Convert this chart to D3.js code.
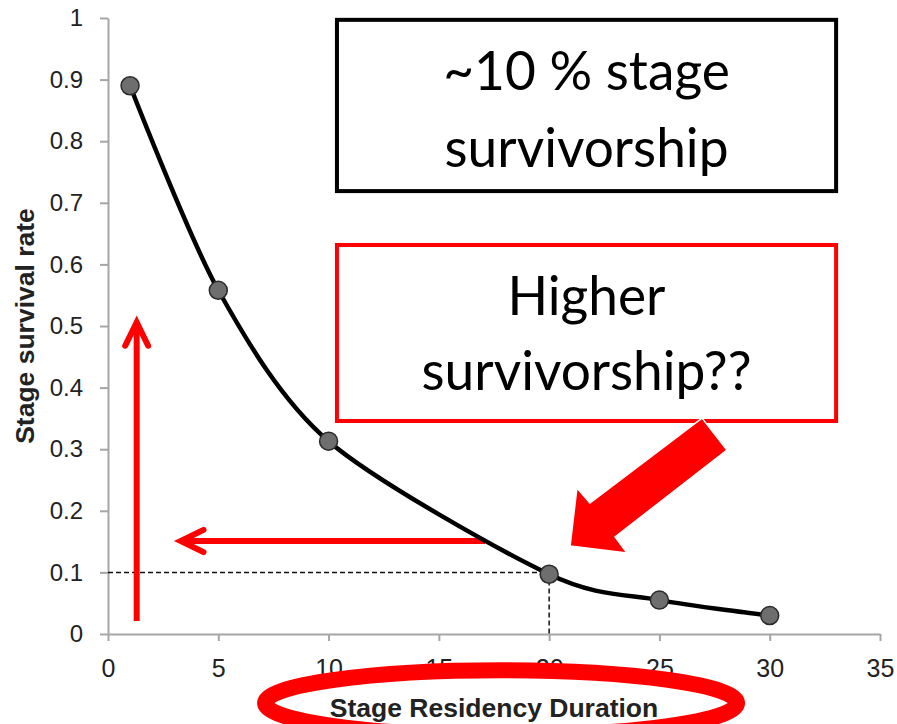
<!DOCTYPE html>
<html>
<head>
<meta charset="utf-8">
<script src="https://cdn.jsdelivr.net/npm/d3@7"></script>
<style>
  html, body { margin: 0; padding: 0; background: #fff; }
  svg { display: block; }
</style>
</head>
<body>
<svg id="chart" width="897" height="724"></svg>
<script>
// ---------- data ----------
const durations = [1, 5, 10, 20, 25, 30];
const survivalRates = [0.89, 0.558, 0.313, 0.097, 0.055, 0.03];
const xTickValues = [0, 5, 10, 15, 20, 25, 30, 35];
const yTickValues = [0, 0.1, 0.2, 0.3, 0.4, 0.5, 0.6, 0.7, 0.8, 0.9, 1];
const yTickLabels = ["0", "0.1", "0.2", "0.3", "0.4", "0.5", "0.6", "0.7", "0.8", "0.9", "1"];
const xTitle = "Stage Residency Duration";
const yTitle = "Stage survival rate";
const box1Lines = ["~10 % stage", "survivorship"];
const box2Lines = ["Higher", "survivorship??"];
const refLevel = 0.1;      // dashed reference survival
const refDuration = 20;    // dashed reference duration

// ---------- layout ----------
const svg = d3.select("#chart");
const x = d3.scaleLinear().domain([0, 35]).range([108, 880]);
const y = d3.scaleLinear().domain([0, 1]).range([634, 18]);
const axisColor = "#a6a6a6";
const P = (a, b) => [x(a), y(b)];
const sans = "'Liberation Sans', Arial, sans-serif";

// ---------- axes ----------
const yAxis = svg.append("g")
  .attr("transform", `translate(${x(0)},0)`)
  .call(d3.axisLeft(y).tickValues(yTickValues)
    .tickFormat((d, i) => yTickLabels[i]).tickSize(8).tickSizeOuter(0).tickPadding(17));
const xAxis = svg.append("g")
  .attr("transform", `translate(0,${y(0)})`)
  .call(d3.axisBottom(x).tickValues(xTickValues).tickFormat(d3.format("d"))
    .tickSize(7).tickSizeOuter(0).tickPadding(18));
[yAxis, xAxis].forEach(g => {
  g.attr("font-family", sans);
  g.select(".domain").attr("stroke", axisColor).attr("stroke-width", 2);
  g.selectAll(".tick line").attr("stroke", axisColor).attr("stroke-width", 2);
  g.selectAll(".tick text").attr("fill", "#222");
});
yAxis.attr("font-size", 24);
xAxis.attr("font-size", 25);

// axis titles
svg.append("text")
  .attr("transform", `translate(34,${(y(0) + y(1)) / 2}) rotate(-90)`)
  .attr("text-anchor", "middle")
  .attr("font-family", sans)
  .attr("font-weight", "bold").attr("font-size", 26.5).attr("fill", "#222")
  .text(yTitle);
svg.append("text")
  .attr("x", 494).attr("y", 717)
  .attr("text-anchor", "middle")
  .attr("font-family", sans)
  .attr("font-weight", "bold").attr("font-size", 26.5).attr("fill", "#222")
  .text(xTitle);

// ---------- dashed reference lines ----------
const dashed = svg.append("g").attr("stroke", "#111").attr("stroke-width", 1.5)
  .attr("stroke-dasharray", "5,3").attr("fill", "none");
dashed.append("line").attr("x1", x(0)).attr("y1", y(refLevel))
  .attr("x2", x(refDuration)).attr("y2", y(refLevel));
dashed.append("line").attr("x1", x(refDuration)).attr("y1", y(refLevel))
  .attr("x2", x(refDuration)).attr("y2", y(0));

// ---------- red thin arrows ----------
const red = "#ff0000";
const arrows = svg.append("g").attr("stroke", red).attr("fill", "none")
  .attr("stroke-width", 6);
// vertical arrow
arrows.append("line").attr("x1", x(1.3)).attr("y1", y(0.021))
  .attr("x2", x(1.3)).attr("y2", y(0.505));
arrows.append("path")
  .attr("stroke-linecap", "round").attr("stroke-linejoin", "miter")
  .attr("d", d3.line()([P(0.78, 0.468), P(1.3, 0.506), P(1.82, 0.468)]));
// horizontal arrow
arrows.append("line").attr("x1", x(17.1)).attr("y1", y(0.151))
  .attr("x2", x(3.35)).attr("y2", y(0.151));
arrows.append("path")
  .attr("stroke-linecap", "round").attr("stroke-linejoin", "miter")
  .attr("d", d3.line()([P(4.33, 0.169), P(3.3, 0.151), P(4.33, 0.133)]));

// ---------- series line + markers ----------
const pts = durations.map((d, i) => [d, survivalRates[i]]);
svg.append("path")
  .datum(pts)
  .attr("fill", "none").attr("stroke", "#000").attr("stroke-width", 4.5)
  .attr("d", d3.line().x(d => x(d[0])).y(d => y(d[1])).curve(d3.curveCardinal.tension(0.15)));
svg.append("g").selectAll("circle").data(pts).join("circle")
  .attr("cx", d => x(d[0])).attr("cy", d => y(d[1])).attr("r", 9)
  .attr("fill", "#6e6e6e").attr("stroke", "#2a2a2a").attr("stroke-width", 1.5);

// ---------- text boxes ----------
const boxFont = "Lato, 'Open Sans', sans-serif";
const probe = svg.append("text").attr("font-family", boxFont).attr("font-size", 100).text("survivorship");
const probeW = probe.node().getComputedTextLength();
probe.remove();
const boxFontSize = 100 * 284 / probeW;

function textBox(x0, x1, yTop, yBot, color, lines, baselines) {
  svg.append("rect")
    .attr("x", x(x0)).attr("y", y(yTop))
    .attr("width", x(x1) - x(x0)).attr("height", y(yBot) - y(yTop))
    .attr("fill", "#fff").attr("stroke", color).attr("stroke-width", 4);
  lines.forEach((t, i) => {
    svg.append("text")
      .attr("x", (x(x0) + x(x1)) / 2).attr("y", y(baselines[i]))
      .attr("text-anchor", "middle").attr("font-family", boxFont)
      .attr("font-size", boxFontSize).attr("fill", "#000")
      .text(t);
  });
}
textBox(10.38, 33.01, 0.997, 0.719, "#000", box1Lines, [0.883, 0.758]);
textBox(10.38, 33.01, 0.6315, 0.3458, red, box2Lines, [0.518, 0.396]);

// ---------- big block arrow ----------
svg.append("path")
  .attr("fill", red).attr("stroke", "#fff").attr("stroke-width", 1.5)
  .attr("d", d3.line()([
    P(26.93, 0.3506), P(21.85, 0.2127), P(21.26, 0.2370), P(20.95, 0.1429),
    P(23.53, 0.1315), P(22.99, 0.1575), P(28.06, 0.2987)
  ]) + "Z");

// ---------- ellipse around x-axis title ----------
svg.append("ellipse")
  .attr("cx", x(17.82)).attr("cy", y(-0.112))
  .attr("rx", x(17.82 + 10.7) - x(17.82)).attr("ry", y(-0.112 - 0.053) - y(-0.112))
  .attr("fill", "none").attr("stroke", red).attr("stroke-width", 16);
</script>
</body>
</html>
